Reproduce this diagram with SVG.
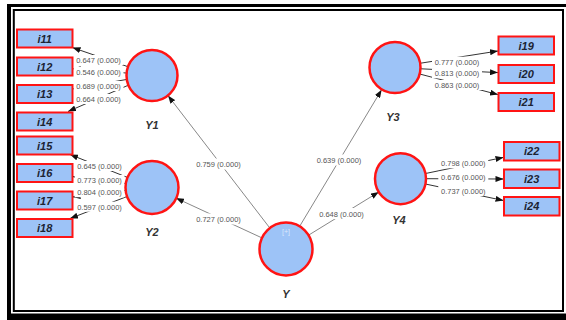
<svg xmlns="http://www.w3.org/2000/svg" width="566" height="320" viewBox="0 0 566 320">
<defs>
<style>
.lv{fill:#9dc3f7;stroke:#ff1414;stroke-width:2.5}
.mv{fill:#9dc3f7;stroke:#ff1414;stroke-width:2}
.mvt{font-family:"Liberation Sans",Arial,sans-serif;font-size:11px;font-weight:bold;font-style:italic;fill:#1c2433;text-anchor:middle}
.lvt{font-family:"Liberation Sans",Arial,sans-serif;font-size:11px;font-weight:bold;font-style:italic;fill:#333;text-anchor:middle}
.ld{stroke:#333;stroke-width:1;fill:none}
.st{stroke:#888;stroke-width:1;fill:none}
.lb{fill:#fff}
.lt{font-family:"Liberation Sans",Arial,sans-serif;font-size:7.5px;fill:#555;text-anchor:middle}
</style>
<marker id="ah" markerWidth="8" markerHeight="6" refX="8" refY="3" orient="auto" markerUnits="userSpaceOnUse">
<path d="M0,0 L8,3 L0,6 Z" fill="#111"/>
</marker>
</defs>
<rect width="566" height="320" fill="#fff"/>
<g id="frame">
<rect x="7" y="4" width="559" height="3" fill="#000"/>
<rect x="7" y="4" width="4" height="316" fill="#000"/>
<rect x="7" y="313.5" width="559" height="6.5" fill="#000"/>
<rect x="13.8" y="10" width="549.2" height="301" fill="none" stroke="#000" stroke-width="2"/>
</g>
<g id="connectors">
<line class="st" x1="269.5" y1="227.6" x2="168" y2="95.6" marker-end="url(#ah)"/>
<line class="st" x1="261.5" y1="237.7" x2="176" y2="198.1" marker-end="url(#ah)"/>
<line class="st" x1="299.9" y1="225.9" x2="381.6" y2="89.8" marker-end="url(#ah)"/>
<line class="st" x1="309" y1="234.9" x2="378.8" y2="192" marker-end="url(#ah)"/>
<line class="ld" x1="127.4" y1="66.5" x2="72.5" y2="47.6" marker-end="url(#ah)"/>
<line class="ld" x1="126.1" y1="73" x2="72.5" y2="68.7" marker-end="url(#ah)"/>
<line class="ld" x1="126.4" y1="79.5" x2="72.5" y2="89" marker-end="url(#ah)"/>
<line class="ld" x1="128.1" y1="85.3" x2="68" y2="111.5" marker-end="url(#ah)"/>
<line class="ld" x1="127.3" y1="177.4" x2="70" y2="154.5" marker-end="url(#ah)"/>
<line class="ld" x1="125.7" y1="183.6" x2="72.5" y2="176.6" marker-end="url(#ah)"/>
<line class="ld" x1="125.7" y1="190.3" x2="72.5" y2="197" marker-end="url(#ah)"/>
<line class="ld" x1="127.3" y1="196.4" x2="70" y2="218.5" marker-end="url(#ah)"/>
<line class="ld" x1="420.6" y1="63.2" x2="498" y2="51" marker-end="url(#ah)"/>
<line class="ld" x1="421" y1="68.8" x2="498" y2="72.6" marker-end="url(#ah)"/>
<line class="ld" x1="420.1" y1="74.1" x2="498" y2="94.6" marker-end="url(#ah)"/>
<line class="ld" x1="425.5" y1="173.5" x2="503.5" y2="157.4" marker-end="url(#ah)"/>
<line class="ld" x1="426" y1="178.7" x2="503.5" y2="179" marker-end="url(#ah)"/>
<line class="ld" x1="425.4" y1="184" x2="503.5" y2="200.5" marker-end="url(#ah)"/>
</g>
<g id="labels">
<rect class="lb" x="193.5" y="158.5" width="50" height="11"/><text class="lt" x="218.5" y="167">0.759 (0.000)</text>
<rect class="lb" x="193.5" y="213.5" width="50" height="11"/><text class="lt" x="218.5" y="222">0.727 (0.000)</text>
<rect class="lb" x="314" y="154.5" width="50" height="11"/><text class="lt" x="339" y="163">0.639 (0.000)</text>
<rect class="lb" x="316.5" y="208" width="50" height="11"/><text class="lt" x="341.5" y="216.5">0.648 (0.000)</text>
<rect class="lb" x="73.5" y="55" width="50" height="10"/><text class="lt" x="98.5" y="63">0.647 (0.000)</text>
<rect class="lb" x="73.5" y="67" width="50" height="10"/><text class="lt" x="98.5" y="75">0.546 (0.000)</text>
<rect class="lb" x="73.5" y="81" width="50" height="10"/><text class="lt" x="98.5" y="89">0.689 (0.000)</text>
<rect class="lb" x="73.5" y="94" width="50" height="10"/><text class="lt" x="98.5" y="102">0.664 (0.000)</text>
<rect class="lb" x="74.5" y="161" width="50" height="10"/><text class="lt" x="99.5" y="169">0.645 (0.000)</text>
<rect class="lb" x="74.5" y="175" width="50" height="10"/><text class="lt" x="99.5" y="183">0.773 (0.000)</text>
<rect class="lb" x="74.5" y="187.3" width="50" height="10"/><text class="lt" x="99.5" y="195.3">0.804 (0.000)</text>
<rect class="lb" x="74.5" y="201.7" width="50" height="10"/><text class="lt" x="99.5" y="209.7">0.597 (0.000)</text>
<rect class="lb" x="432" y="56.7" width="50" height="10"/><text class="lt" x="457" y="64.7">0.777 (0.000)</text>
<rect class="lb" x="432" y="68.3" width="50" height="10"/><text class="lt" x="457" y="76.3">0.813 (0.000)</text>
<rect class="lb" x="432" y="80" width="50" height="10"/><text class="lt" x="457" y="88">0.863 (0.000)</text>
<rect class="lb" x="438.3" y="158.3" width="50" height="10"/><text class="lt" x="463.3" y="166.3">0.798 (0.000)</text>
<rect class="lb" x="438.3" y="171.7" width="50" height="10"/><text class="lt" x="463.3" y="179.7">0.676 (0.000)</text>
<rect class="lb" x="438.3" y="186" width="50" height="10"/><text class="lt" x="463.3" y="194">0.737 (0.000)</text>
</g>
<g id="Y"><circle class="lv" cx="286" cy="249" r="26.5"/><text x="286" y="234" font-family="Liberation Sans,Arial,sans-serif" font-size="7" fill="#dce8fb" text-anchor="middle">[+]</text><text class="lvt" x="286" y="298">Y</text></g>
<g id="Y1"><circle class="lv" cx="152" cy="75.5" r="25.5"/><text class="lvt" x="152" y="129">Y1</text></g>
<g id="Y2"><circle class="lv" cx="152" cy="187.5" r="26.5"/><text class="lvt" x="152" y="236">Y2</text></g>
<g id="Y3"><circle class="lv" cx="395" cy="67.5" r="25.5"/><text class="lvt" x="393" y="120.5">Y3</text></g>
<g id="Y4"><circle class="lv" cx="400.5" cy="178.7" r="25.5"/><text class="lvt" x="399" y="224">Y4</text></g>
<g id="i11"><rect class="mv" x="17" y="29.5" width="55.5" height="18"/><text class="mvt" x="44.7" y="42.5">i11</text></g>
<g id="i12"><rect class="mv" x="17" y="57.5" width="55.5" height="18"/><text class="mvt" x="44.7" y="70.5">i12</text></g>
<g id="i13"><rect class="mv" x="17" y="85" width="55.5" height="18"/><text class="mvt" x="44.7" y="98">i13</text></g>
<g id="i14"><rect class="mv" x="17" y="112.5" width="55.5" height="18"/><text class="mvt" x="44.7" y="125.5">i14</text></g>
<g id="i15"><rect class="mv" x="17" y="136.5" width="55.5" height="18"/><text class="mvt" x="44.7" y="149.5">i15</text></g>
<g id="i16"><rect class="mv" x="17" y="164" width="55.5" height="18"/><text class="mvt" x="44.7" y="177">i16</text></g>
<g id="i17"><rect class="mv" x="17" y="191.5" width="55.5" height="18"/><text class="mvt" x="44.7" y="204.5">i17</text></g>
<g id="i18"><rect class="mv" x="17" y="219" width="55.5" height="18"/><text class="mvt" x="44.7" y="232">i18</text></g>
<g id="i19"><rect class="mv" x="498.5" y="36.5" width="55.5" height="18"/><text class="mvt" x="526.2" y="49.5">i19</text></g>
<g id="i20"><rect class="mv" x="498.5" y="65" width="55.5" height="18"/><text class="mvt" x="526.2" y="78">i20</text></g>
<g id="i21"><rect class="mv" x="498.5" y="93" width="55.5" height="18"/><text class="mvt" x="526.2" y="106">i21</text></g>
<g id="i22"><rect class="mv" x="504" y="142" width="55.5" height="18.5"/><text class="mvt" x="531.7" y="155.3">i22</text></g>
<g id="i23"><rect class="mv" x="504" y="169.5" width="55.5" height="18.5"/><text class="mvt" x="531.7" y="182.8">i23</text></g>
<g id="i24"><rect class="mv" x="504" y="197" width="55.5" height="18.5"/><text class="mvt" x="531.7" y="210.3">i24</text></g>
</svg>
